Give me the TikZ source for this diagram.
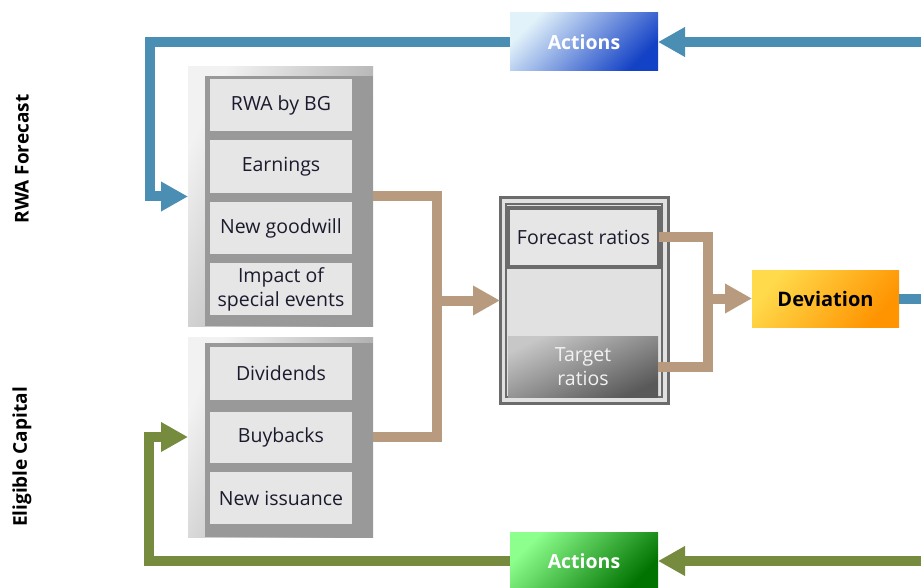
\documentclass[tikz,border=0pt]{standalone}
\usepackage{fontspec}
\setmainfont{Open Sans}
\usetikzlibrary{arrows.meta}
\definecolor{blueln}{HTML}{4A8FB3}
\definecolor{greenln}{HTML}{778B3F}
\definecolor{tanln}{HTML}{B89B7F}
\definecolor{itemfill}{HTML}{E6E6E6}
\definecolor{innergray}{HTML}{999999}
\definecolor{txt}{HTML}{1B1B2E}
\definecolor{frame}{HTML}{6B6B6B}
\definecolor{actblue}{HTML}{1442C6}
\definecolor{actbluelt}{HTML}{E2F2FA}
\begin{document}
\begin{tikzpicture}[x=1pt,y=-1pt,
  box/.style={inner sep=0pt, outer sep=0pt, anchor=north west},
  item/.style={box, fill=itemfill, minimum width=142pt, align=center, text=txt,
    font=\fontsize{19.5}{24}\selectfont},
  grpouter/.style={box, top color=white!90!gray, bottom color=innergray, shading angle=65},
  grpinner/.style={box, fill=innergray},
  actbox/.style={box, minimum width=148pt, minimum height=58pt, text=white,
    font=\fontsize{19.5}{22}\selectfont\bfseries},
  conn/.style={line width=10pt, line join=miter},
  tip/.style={-{Triangle[length=27pt,width=28pt]}},
  sidelabel/.style={rotate=90, font=\fontsize{19}{22}\selectfont\bfseries, text=black}
]
\useasboundingbox (0,0) rectangle (921,588);
\clip (0,0) rectangle (921,588);

% side labels
\node[sidelabel] (lrwa) at (22,159) {RWA Forecast};
\node[sidelabel] (lcap) at (22,457) {Eligible Capital};

% RWA group
\node[grpouter, minimum width=185pt, minimum height=259pt] (rwa) at (188,67) {};
\node[grpinner, minimum width=168pt, minimum height=250pt] (rwain) at (205,76) {};
\node[item, minimum height=52pt] (i1) at (210,79) {RWA by BG};
\node[item, minimum height=53pt] (i2) at (210,140) {Earnings};
\node[item, minimum height=52pt] (i3) at (210,202) {New goodwill};
\node[item, minimum height=52pt] (i4) at (210,263) {Impact of\\special events};

% Capital group
\node[grpouter, minimum width=185pt, minimum height=200pt] (cap) at (188,337) {};
\node[grpinner, minimum width=168pt, minimum height=194pt] (capin) at (205,343) {};
\node[item, minimum height=53pt] (c1) at (210,347) {Dividends};
\node[item, minimum height=51pt] (c2) at (210,412) {Buybacks};
\node[item, minimum height=52pt] (c3) at (210,472) {New issuance};

% Ratio box
\node[box, fill=itemfill!95!gray, draw=frame, line width=3pt, minimum width=168pt, minimum height=205pt] (ratio) at (500,198) {};
\node[box, draw=frame, line width=1.2pt, minimum width=156pt, minimum height=193pt] (ratioin) at (506,204) {};
\node[item, draw=frame, line width=4.5pt, minimum width=151pt, minimum height=59pt] (fc) at (508,208) {Forecast ratios};
\node[box, top color=black!22, bottom color=black!65, shading angle=25, minimum width=150pt, minimum height=61pt,
  align=center, text=white!90!gray, font=\fontsize{19.5}{24}\selectfont] (tg) at (508,336) {Target\\ratios};

% Deviation
\node[box, top color=yellow!60!orange!70, bottom color=orange!85!yellow, shading angle=50,
  minimum width=147pt, minimum height=57pt, text=black, font=\fontsize{20}{22}\selectfont\bfseries] (dev) at (752,270) {Deviation};

% Actions boxes
\node[actbox, top color=actbluelt, bottom color=actblue, shading angle=45] (act1) at (510,13) {Actions};
\node[actbox, top color=green!45!white, bottom color=green!45!black, shading angle=45] (act2) at (510,532) {Actions};

% right-hand loop coordinates
\coordinate (rt) at (926,42);
\coordinate (rm) at (926,298.5);
\coordinate (rb) at (926,561);
\coordinate (lt) at (150,42);
\coordinate (lb) at (149,561);
\coordinate (jx) at (437,300.5);
\coordinate (jy) at (708,298.5);

% blue loop
\draw[conn, blueln, tip] (dev.east) -- (rm) -- (rt) -- (act1.east);
\draw[conn, blueln, tip] (act1.west) -- (lt) |- (rwa.west);
% green loop
\draw[conn, greenln, tip] (rm) -- (rb) -- (act2.east);
\draw[conn, greenln, tip] (act2.west) -- (lb) |- (cap.west);

% tan connectors
\draw[conn, tanln] (rwa.east) -| (jx) |- (cap.east);
\draw[conn, tanln, tip] (jx) -- (ratio.west);
\draw[conn, tanln] (fc.east) -| (jy) |- (tg.east);
\draw[conn, tanln, tip] (jy) -- (dev.west);
\end{tikzpicture}
\end{document}
